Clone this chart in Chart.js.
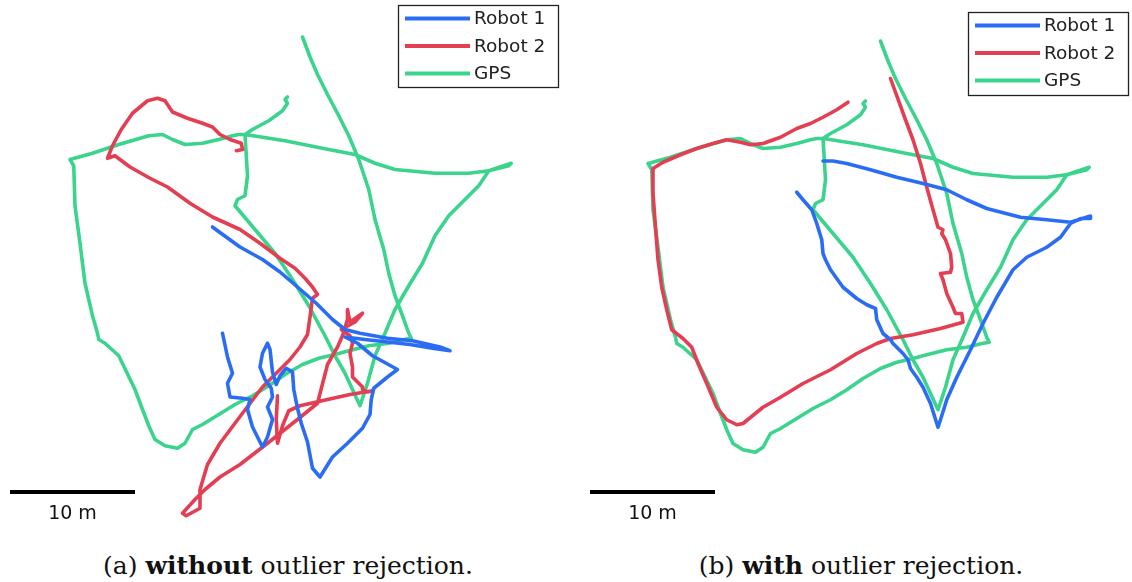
<!DOCTYPE html>
<html>
<head>
<meta charset="utf-8">
<script src="https://cdn.jsdelivr.net/npm/chart.js@4"></script>
<style>
  body { margin: 0; background: #fff; width: 1132px; height: 582px; position: relative; overflow: hidden; }
  .panel { position: absolute; top: 0; width: 566px; height: 530px; }
  .caption { position: absolute; top: 551px; width: 566px; text-align: center;
             font-family: "DejaVu Serif", serif; font-size: 25px; line-height: 30px; color: #111; }
</style>
</head>
<body>
<div class="panel" style="left:0"><canvas id="chartA"></canvas></div>
<div class="panel" style="left:566px"><canvas id="chartB"></canvas></div>
<div class="caption" style="left:5px">(a) <b>without</b> outlier rejection.</div>
<div class="caption" style="left:578px">(b) <b>with</b> outlier rejection.</div>
<script>
// trajectories in metres, [x, y]
const seriesNames = ['Robot 1', 'Robot 2', 'GPS'];
const seriesColors = ['#2a6df4', '#e33e52', '#3ad48c'];

const gpsTrack = [
  [23.4,36.4],[24.0,34.8],[24.6,33.4],[25.4,31.8],[26.3,30.1],[27.1,28.5],[27.9,26.6],[28.7,24.2],[29.2,21.8],[29.9,19.4],
  [30.3,17.5],[30.8,15.7],[31.4,14.1],[31.9,12.7],[32.1,12.3],[31.5,12.2],
  [30.3,11.9],[28.7,11.7],[27.1,11.3],[26.0,11.0],[24.7,10.7],[23.4,10.2],[22.0,9.4],[20.7,8.5],[19.4,7.7],[18.0,7.0],
  [16.7,6.2],[15.4,5.4],[14.6,5.0],[14.0,3.9],[13.4,3.5],[12.4,3.7],[11.6,4.2],[11.1,5.3],[10.6,6.6],
  [10.0,8.2],[8.7,10.9],[7.6,11.9],[7.1,12.2],[7.0,12.7],[6.6,14.1],[6.0,16.7],[5.6,19.9],[5.2,22.9],[5.1,26.1],[4.8,26.6],
  [6.6,27.1],[8.7,27.8],[11.1,28.5],[12.2,28.6],[13.0,28.2],[14.0,27.8],[15.4,27.9],[16.7,28.2],[17.8,28.5],[18.3,28.6],[18.8,28.6],
  [22.0,28.1],[25.5,27.4],[27.6,27.0],[29.2,26.3],[30.8,25.8],[34.0,25.5],[36.7,25.5],[38.3,25.7],[39.9,26.1],[40.1,26.3],[38.3,25.7],
  [37.5,24.5],[36.4,23.4],[35.1,22.1],[34.0,20.5],[33.0,18.3],[31.9,16.5],[30.8,14.6],[30.0,12.7],[29.2,10.9],[28.6,8.7],[28.0,6.9],
  [26.8,9.5],[26.0,10.9],[25.2,12.5],[23.9,14.9],[22.6,17.0],[21.2,19.1],[19.6,21.0],[18.0,22.9],[18.2,23.4],[18.8,23.7],[19.0,25.3],[18.8,28.6],
  [19.4,29.0],[20.7,29.7],[21.8,30.5],[22.2,31.1],[22.0,31.4],[22.2,31.6]
];

// (a) without outlier rejection
const robot1Raw = [
  [16.2,21.2],[16.6,20.9],[18.4,19.6],[20.2,18.6],[21.6,17.6],[23.0,16.4],[24.5,15.1],[25.8,13.8],[26.8,13.0],[28.0,12.7],
  [30.2,12.3],[32.2,12.1],[34.4,11.6],[35.2,11.3],[33.8,11.5],[32.0,11.8],[30.2,12.0],[28.4,12.2],[26.8,12.4],[27.8,11.9],
  [29.0,10.9],[31.0,9.8],[30.2,9.2],[29.1,8.3],[28.9,7.4],[28.8,6.2],[28.2,5.1],[27.0,3.9],[25.8,2.8],[24.8,1.2],
  [24.2,1.9],[23.8,4.0],[23.3,5.5],[23.0,6.7],[22.7,8.2],[22.6,9.6],[22.1,9.9],[21.6,9.3],[21.3,8.6],[21.0,9.6],
  [20.8,11.4],[20.6,11.9],[20.2,11.1],[20.0,10.0],[20.4,9.0],[20.9,8.3],[21.0,7.6],[20.6,6.8],[21.0,5.8],[20.6,4.4],
  [20.2,3.6],[19.4,5.2],[19.0,6.6],[19.2,7.4],[18.6,7.5],[17.6,7.6],[17.4,8.7],[17.8,9.5],[17.4,10.8],[17.0,12.7]
];
const robot2Raw = [
  [18.1,27.3],[18.6,27.4],[18.5,27.9],[17.6,28.2],[16.8,28.6],[16.2,29.2],[15.4,29.5],[14.2,29.9],[13.0,30.4],[12.4,31.3],
  [11.8,31.5],[11.0,31.3],[9.8,30.3],[8.9,29.0],[8.2,27.7],[7.8,26.7],[8.4,26.9],[9.6,26.0],[11.2,25.1],[12.6,24.4],
  [14.4,23.1],[16.2,22.0],[18.4,21.0],[20.0,19.9],[21.6,18.7],[22.8,17.9],[23.6,17.1],[24.2,16.4],[24.6,15.8],[24.2,15.5],
  [24.0,14.0],[23.8,12.6],[23.2,11.6],[22.4,10.6],[21.4,9.6],[20.2,8.4],[18.6,6.3],[16.8,3.9],[15.8,2.2],[15.2,0.2],
  [15.2,-1.3],[14.1,-1.9],[13.8,-1.7],[14.8,-0.6],[15.6,0.2],[16.8,1.2],[18.4,2.2],[20.6,3.9],[23.0,5.8],[24.6,7.1],
  [25.4,10.2],[26.2,11.6],[26.6,12.5],[27.0,13.8],[27.0,14.6],[27.2,13.6],[28.2,14.3],[27.6,13.6],[26.5,13.0],[27.2,12.5],
  [27.4,11.9],[27.2,11.1],[27.4,10.0],[27.4,9.2],[27.8,8.8],[28.2,8.4],[28.2,8.2],[28.6,8.0],[29.0,8.1],[27.2,7.8],
  [25.4,7.4],[23.2,6.9],[22.3,6.5],[21.8,5.3],[21.4,3.9],[21.3,5.8],[21.4,7.7]
];

// (b) with outlier rejection
const robot1Filtered = [
  [16.7,24.3],[17.2,23.7],[17.9,22.9],[18.3,21.8],[18.7,20.5],[18.8,19.4],[19.0,18.9],[19.4,18.1],[20.4,16.7],[21.5,15.8],
  [22.3,15.3],[23.0,15.0],[23.1,14.1],[23.6,13.0],[24.2,12.5],[24.4,12.2],[25.2,11.4],[25.6,10.9],[25.8,10.2],[26.3,9.5],
  [26.8,8.7],[27.4,7.4],[28.0,5.5],[28.2,6.1],[28.7,7.7],[29.5,9.5],[30.6,11.7],[31.6,13.8],[32.7,15.9],[34.0,18.1],
  [35.1,19.1],[36.7,19.9],[37.8,20.7],[38.6,21.8],[39.4,22.2],[40.2,22.2],[40.2,22.4],[38.6,21.9],[36.7,22.1],[34.6,22.3],
  [31.9,23.0],[30.3,23.7],[28.7,24.5],[26.8,25.0],[24.7,25.5],[22.6,26.1],[20.7,26.6],[19.6,26.8],[18.8,26.8]
];
const robot2Filtered = [
  [20.8,31.5],[19.9,30.9],[18.8,30.3],[17.8,29.8],[16.7,29.4],[15.4,28.7],[14.0,28.2],[13.0,28.1],[12.2,28.3],[11.1,28.5],
  [10.0,28.2],[8.7,27.8],[7.4,27.3],[6.0,26.7],[5.2,26.2],[5.2,24.2],[5.4,21.5],[5.6,18.9],[5.9,16.7],[6.3,14.9],
  [6.7,13.3],[7.6,12.6],[8.3,11.9],[8.8,10.6],[9.5,9.0],[10.3,7.1],[11.1,6.1],[11.9,5.7],[12.4,5.8],[14.0,7.1],
  [15.4,7.9],[17.2,9.0],[19.4,10.1],[21.5,11.4],[23.1,12.2],[24.2,12.6],[26.0,12.9],[28.2,13.4],[30.0,13.9],[29.9,14.6],
  [29.4,14.6],[29.2,15.1],[28.7,16.2],[28.4,17.3],[28.2,17.8],[29.0,17.9],[29.1,18.3],[29.0,19.4],[28.6,20.5],[28.3,21.0],
  [28.4,21.3],[28.0,21.5],[27.6,22.9],[27.1,24.7],[26.6,26.6],[26.0,28.5],[25.4,30.1],[24.2,33.4]
];

const scaleBarA = [[0, 0], [10, 0]];
const scaleBarB = [[0.16, 0.32], [10.16, 0.32]];
const scaleBarText = '10 m';

const toXY = arr => arr.map(([x, y]) => ({ x, y }));

const boxLegend = {
  id: 'boxLegend',
  afterDraw(chart, args, opts) {
    const ctx = chart.ctx;
    const items = chart.data.datasets.filter(d => !d.isScaleBar);
    ctx.save();
    ctx.fillStyle = '#fff';
    ctx.fillRect(opts.x, opts.y, opts.w, opts.h);
    ctx.strokeStyle = '#222';
    ctx.lineWidth = 1.3;
    ctx.strokeRect(opts.x + 0.5, opts.y + 0.5, opts.w, opts.h);
    ctx.font = '18.5px "DejaVu Sans"';
    ctx.textBaseline = 'middle';
    items.forEach((d, i) => {
      const yy = opts.y + 13.5 + i * 27.5;
      ctx.strokeStyle = d.borderColor;
      ctx.lineWidth = 4;
      ctx.beginPath();
      ctx.moveTo(opts.x + 7, yy);
      ctx.lineTo(opts.x + 72, yy);
      ctx.stroke();
      ctx.fillStyle = '#222';
      ctx.fillText(d.label, opts.x + 76, yy + 1);
    });
    ctx.restore();
  }
};

const scaleLabel = {
  id: 'scaleLabel',
  afterDatasetsDraw(chart) {
    const bar = chart.data.datasets.find(d => d.isScaleBar);
    const p0 = bar.data[0], p1 = bar.data[1];
    const px = chart.scales.x.getPixelForValue((p0.x + p1.x) / 2);
    const py = chart.scales.y.getPixelForValue(p0.y);
    const ctx = chart.ctx;
    ctx.save();
    ctx.font = '19px "DejaVu Sans"';
    ctx.fillStyle = '#111';
    ctx.textAlign = 'center';
    ctx.textBaseline = 'middle';
    ctx.fillText(scaleBarText, px, py + 22);
    ctx.restore();
  }
};

function makeChart(id, r1, r2, bar, xr, yr, legendPos) {
  const tracks = [r1, r2, gpsTrack];
  const datasets = tracks.map((t, i) => ({
    label: seriesNames[i],
    data: toXY(t),
    borderColor: seriesColors[i],
    borderWidth: 3.6,
    showLine: true,
    pointRadius: 0,
    tension: 0,
    borderJoinStyle: 'round',
    borderCapStyle: 'round'
  }));
  datasets.push({
    label: 'scale',
    isScaleBar: true,
    data: toXY(bar),
    borderColor: '#000',
    borderWidth: 4,
    showLine: true,
    pointRadius: 0
  });
  return new Chart(document.getElementById(id), {
    type: 'scatter',
    data: { datasets },
    options: {
      responsive: true,
      maintainAspectRatio: false,
      animation: false,
      layout: { padding: 0 },
      scales: {
        x: { type: 'linear', min: xr[0], max: xr[1], display: false },
        y: { type: 'linear', min: yr[0], max: yr[1], display: false }
      },
      plugins: {
        legend: { display: false },
        tooltip: { enabled: false },
        boxLegend: legendPos
      }
    },
    plugins: [boxLegend, scaleLabel]
  });
}

makeChart('chartA', robot1Raw, robot2Raw, scaleBarA, [-0.8, 44.48], [-3.04, 39.36],
  { x: 398, y: 5, w: 160, h: 82 });
makeChart('chartB', robot1Filtered, robot2Filtered, scaleBarB, [-1.76, 43.52], [-2.72, 39.68],
  { x: 402, y: 12, w: 160, h: 83 });
</script>
</body>
</html>
